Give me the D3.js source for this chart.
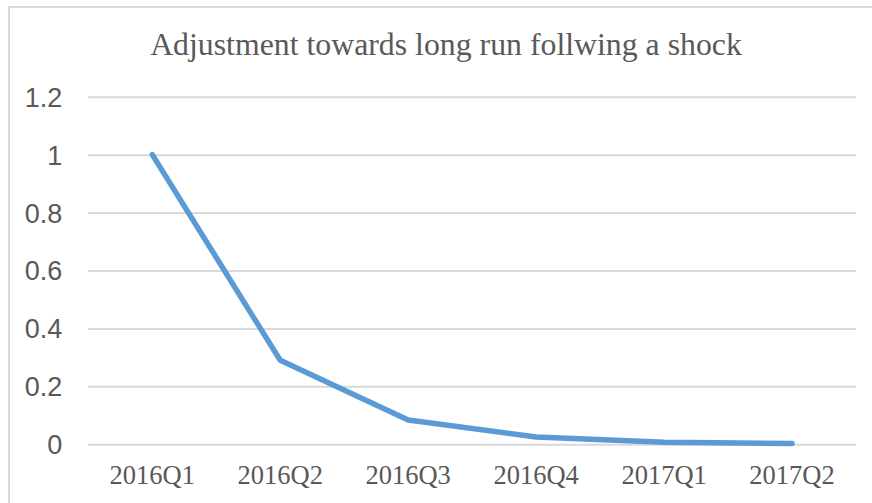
<!DOCTYPE html>
<html>
<head>
<meta charset="utf-8">
<script src="https://cdn.jsdelivr.net/npm/d3@7"></script>
<style>
  body { margin: 0; background: #fff; }
  svg { display: block; }
</style>
</head>
<body>
<script>
// chart data
const quarters = ['2016Q1', '2016Q2', '2016Q3', '2016Q4', '2017Q1', '2017Q2']
const adjustment = [1, 0.29, 0.084, 0.025, 0.0075, 0.003]
const yTicks = [0, 0.2, 0.4, 0.6, 0.8, 1, 1.2]
const chartTitle = 'Adjustment towards long run follwing a shock'

const W = 872, H = 503
const margin = {top: 96.7, right: 16, bottom: 58.7, left: 88.3}
const width = W - margin.left - margin.right
const height = H - margin.top - margin.bottom

const svg = d3.select('body').append('svg')
    .attr('width', W)
    .attr('height', H)

// outer chart border (only top/left visible in frame)
svg.append('rect')
    .attr('x', 9).attr('y', 7)
    .attr('width', W + 20).attr('height', H + 20)
    .attr('fill', 'none')
    .attr('stroke', '#d9d9d9')
    .attr('stroke-width', 2)

svg.append('text')
    .attr('x', 446).attr('y', 55)
    .attr('text-anchor', 'middle')
    .attr('font-family', '"Liberation Serif", "Times New Roman", serif')
    .attr('font-size', 31.8)
    .attr('fill', '#595959')
    .text(chartTitle)

const g = svg.append('g')
    .attr('transform', 'translate(' + margin.left + ',' + margin.top + ')')

const x = d3.scaleBand()
    .domain(quarters)
    .range([0, width])

const y = d3.scaleLinear()
    .domain([0, 1.2])
    .range([height, 0])

// gridlines + y labels
const yAxis = g.append('g')
    .call(d3.axisLeft(y).tickValues(yTicks).tickSize(-width).tickFormat(d3.format('~g')))
yAxis.select('.domain').remove()
yAxis.selectAll('.tick line')
    .attr('stroke', '#d9d9d9')
    .attr('stroke-width', 2)
yAxis.selectAll('.tick text')
    .attr('x', -26)
    .attr('dy', '0.35em')
    .attr('font-family', '"Liberation Sans", Arial, sans-serif')
    .attr('font-size', 27)
    .attr('fill', '#595959')

// x labels
const xAxis = g.append('g')
    .attr('transform', 'translate(0,' + height + ')')
    .call(d3.axisBottom(x).tickSize(0))
xAxis.select('.domain').remove()
xAxis.selectAll('.tick text')
    .attr('y', 0)
    .attr('dy', 40)
    .attr('font-family', '"Liberation Serif", "Times New Roman", serif')
    .attr('font-size', 26.5)
    .attr('fill', '#595959')

const line = d3.line()
    .x((d, i) => x(quarters[i]) + x.bandwidth() / 2)
    .y(d => y(d))

g.append('path')
    .datum(adjustment)
    .attr('d', line)
    .attr('fill', 'none')
    .attr('stroke', '#5b9bd5')
    .attr('stroke-width', 5.5)
    .attr('stroke-linejoin', 'round')
    .attr('stroke-linecap', 'round')
</script>
</body>
</html>
